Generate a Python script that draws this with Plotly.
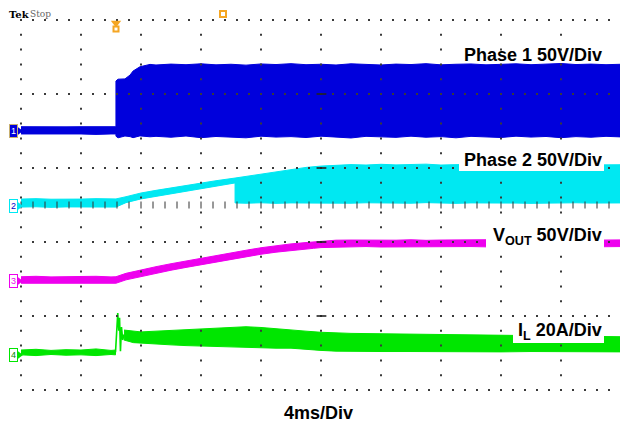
import plotly.graph_objects as go

# ---------------- data (read from the scope capture) ----------------
# time in ms (4 ms/div), channel values in V or A
# Channel 1 - Phase 1 (V)
ph1_t = [0, 1, 2, 3, 4, 5, 6, 6.33,
         6.33, 6.47, 6.93, 7.27, 7.47, 7.93, 8.6,
         9, 10, 11, 12, 13, 14, 15, 16, 17, 18, 19, 20, 21, 22, 23, 24,
         25, 26, 27, 28, 29, 30, 31, 32, 33, 34, 35, 36, 37, 38, 39, 40]
ph1_hi = [2.9, 2.7, 3.0, 2.8, 2.9, 2.7, 3.0, 2.9,
          33.8, 35.0, 35.2, 37.8, 40.5, 43.4, 45.0,
          44.6, 45.2, 44.8, 45.4, 44.7, 45.1, 44.5, 45.3, 44.9, 45.5, 44.8, 45.1, 44.6, 45.4, 45.0, 44.6,
          45.2, 44.9, 45.5, 44.7, 45.1, 45.3, 44.7, 45.0, 45.4, 44.8, 45.1, 45.6, 44.9, 45.2, 44.8, 45.1]
ph1_lo = [-2.0, -2.2, -1.9, -2.1, -2.0, -2.3, -2.0, -2.0,
          -3.5, -4.6, -3.4, -3.8, -4.5, -3.3, -3.9,
          -3.6, -4.2, -3.4, -4.5, -3.7, -3.9, -4.6, -3.5, -4.1, -3.8, -4.4, -3.5, -4.0, -4.7, -3.6, -3.9,
          -4.3, -3.5, -4.2, -3.8, -4.6, -3.6, -4.0, -4.4, -3.5, -4.1, -3.7, -4.5, -3.8, -4.2, -3.6, -4.0]

# Channel 2 - Phase 2 (V)
ph2_t = [0, 1, 2, 3, 4, 5, 6, 6.33,
         7, 8, 9, 10, 11, 12, 13,
         14.27, 14.27,
         15, 16, 17, 18, 19, 20, 21,
         22, 23, 24, 25, 26, 27, 28, 29, 30, 31, 32, 33, 34, 35, 36, 37, 38, 39, 40]
ph2_hi = [4.0, 4.3, 3.9, 4.2, 4.0, 4.3, 4.0, 4.1,
          5.6, 8.1, 9.9, 11.6, 13.3, 14.9, 16.4,
          18.2, 18.2,
          19.3, 20.9, 22.6, 24.0, 25.4, 26.3, 26.9,
          27.3, 27.0, 27.5, 27.1, 27.4, 27.6, 27.0, 27.3, 27.5, 27.1, 27.4, 27.2, 27.6, 27.0, 27.3, 27.5, 27.1, 27.4, 27.2]
ph2_lo = [-1.4, -1.2, -1.6, -1.3, -1.5, -1.2, -1.4, -1.4,
          1.6, 4.1, 5.9, 7.6, 9.2, 10.8, 12.7,
          14.9, 1.4,
          1.2, 1.5, 1.1, 1.4, 1.2, 1.5, 1.3,
          1.2, 1.5, 1.1, 1.4, 1.2, 1.6, 1.3, 1.1, 1.4, 1.2, 1.5, 1.3, 1.1, 1.4, 1.2, 1.5, 1.3, 1.1, 1.4]

# Channel 3 - VOUT (V)
vout_t = [0, 1, 2, 3, 4, 5, 6, 6.33,
          7, 8, 9, 10, 11, 12, 13, 14, 15, 16, 17, 18, 19,
          19.5, 20, 20.5, 21,
          22, 23, 24, 25, 26, 27, 28, 29, 30, 31, 32, 33, 34, 35, 36, 37, 38, 39, 40]
vout_hi = [2.2, 2.5, 2.1, 2.4, 2.2, 2.5, 2.1, 2.2,
           4.5, 6.9, 9.0, 11.0, 12.9, 14.6, 16.5, 18.3, 20.1, 21.8, 23.2, 24.4, 25.3,
           25.8, 26.3, 26.7, 26.9,
           27.0, 26.8, 27.1, 26.9, 27.2, 26.8, 27.0, 27.1, 26.9, 27.2, 26.8, 27.0, 27.1, 26.9, 27.2, 26.8, 27.0, 26.9, 27.1]
vout_lo = [-2.2, -2.0, -2.4, -2.1, -2.3, -2.0, -2.2, -2.2,
           0.1, 2.5, 4.6, 6.6, 8.5, 10.2, 12.1, 13.9, 15.7, 17.4, 18.8, 20.0, 20.9,
           21.4, 21.9, 22.3, 22.5,
           22.4, 22.6, 22.3, 22.5, 22.4, 22.7, 22.3, 22.5, 22.6, 22.4, 22.3, 22.6, 22.5, 22.4, 22.7, 22.3, 22.5, 22.4, 22.6]

# Channel 4 - IL (A)
il_pre_t = [0, 1, 2, 3, 4, 5, 6, 6.3]
il_pre_hi = [0.8, 1.0, 0.7, 0.9, 0.8, 1.1, 0.7, 0.8]
il_pre_lo = [-0.5, -0.7, -0.4, -0.6, -0.5, -0.7, -0.4, -0.5]
il_spike_t = [6.3, 6.36, 6.45, 6.52, 6.57, 6.63, 6.7, 6.78, 6.87]
il_spike_i = [0.2, 3.5, 10.8, 6.0, 9.5, 0.5, 7.0, 3.5, 5.0]
il_t = [6.87, 7.5, 8, 9, 10, 11, 12, 13, 14, 15, 16, 17, 18, 19, 20, 21, 22,
        24, 26, 28, 30, 32, 34, 36, 38, 40]
il_hi = [6.2, 5.9, 5.7, 5.9, 6.1, 6.3, 6.6, 6.8, 7.0, 7.1, 6.9, 6.5, 6.2, 5.9, 5.6, 5.4, 5.3,
         5.2, 5.1, 5.0, 4.9, 4.8, 4.7, 4.6, 4.5, 4.4]
il_lo = [3.5, 2.8, 2.7, 2.4, 2.2, 2.0, 1.8, 1.7, 1.5, 1.4, 1.4, 1.3, 1.3, 1.0, 0.7, 0.5, 0.4,
         0.4, 0.4, 0.3, 0.4, 0.3, 0.4, 0.3, 0.4, 0.3]

labels = ["<b>Phase 1 50V/Div</b>", "<b>Phase 2 50V/Div</b>",
          "<b>V<sub>OUT</sub> 50V/Div</b>", "<b>I<sub>L</sub> 20A/Div</b>"]
time_label = "<b>4ms/Div</b>"

# ---------------- screen geometry / styles ----------------
W, H = 620, 427
DIV_X, DIV_Y = 15.0, 74.0       # px per ms, px per vertical division
X0_PX, Y0_PX = 21.0, 205.0      # px of t=0, screen centre line


def tx(px):
    return (px - X0_PX) / DIV_X


def dy(py):
    return (Y0_PX - py) / DIV_Y


# channel: (ground position in divisions, units per division, colour)
CH1 = (dy(131), 50.0, "#0000dc")
CH2 = (dy(205), 50.0, "#00e8f2")
CH3 = (dy(280), 50.0, "#ee00ee")
CH4 = (dy(353), 20.0, "#00e600")
ORANGE = "#f5a623"


def scr(vals, ch):
    off, sc, _ = ch
    return [off + v / sc for v in vals]


def band(t, hi, lo, ch):
    x = list(t) + list(t)[::-1]
    y = scr(hi, ch) + scr(lo, ch)[::-1]
    return go.Scatter(x=x, y=y, mode="lines", fill="toself", fillcolor=ch[2],
                      line=dict(color=ch[2], width=1), hoverinfo="skip",
                      showlegend=False)


fig = go.Figure()
fig.add_trace(band(ph1_t, ph1_hi, ph1_lo, CH1))
fig.add_trace(band(ph2_t, ph2_hi, ph2_lo, CH2))
fig.add_trace(band(vout_t, vout_hi, vout_lo, CH3))
fig.add_trace(band(il_pre_t, il_pre_hi, il_pre_lo, CH4))
fig.add_trace(band(il_t, il_hi, il_lo, CH4))
fig.add_trace(go.Scatter(x=il_spike_t, y=scr(il_spike_i, CH4), mode="lines",
                         line=dict(color=CH4[2], width=1.6), hoverinfo="skip",
                         showlegend=False))

# graticule (drawn over the traces, like the scope screen)
rows = [2.5, 1.5, 0.5, -0.5, -1.5, -2.5]
gx, gy = [], []
for r in rows:
    for k in range(51):
        gx.append(k * 0.8)
        gy.append(r)
for c in range(11):
    for k in range(26):
        gx.append(c * 4.0)
        gy.append(-2.5 + k * 0.2)
fig.add_trace(go.Scatter(x=gx, y=gy, mode="markers",
                         marker=dict(symbol="square", size=2, color="#3a3a3a",
                                     line=dict(width=0)),
                         hoverinfo="skip", showlegend=False))
fig.add_trace(go.Scatter(x=[k * 0.8 for k in range(51)], y=[0] * 51, mode="markers",
                         marker=dict(symbol="line-ns", size=5, color="#333333",
                                     line=dict(width=1, color="#333333")),
                         hoverinfo="skip", showlegend=False))
fig.add_trace(go.Scatter(x=[20.03] * 4, y=[1.5, 0.5, -0.5, -1.5], mode="markers",
                         marker=dict(symbol="line-ew", size=7, color="#222222",
                                     line=dict(width=1.6, color="#222222")),
                         hoverinfo="skip", showlegend=False))

# trigger markers
fig.add_trace(go.Scatter(x=[tx(116)], y=[dy(23)], mode="markers",
                         marker=dict(symbol="triangle-down", size=9, color=ORANGE),
                         hoverinfo="skip", showlegend=False))
fig.add_trace(go.Scatter(x=[tx(116)], y=[dy(29)], mode="markers",
                         marker=dict(symbol="square-open", size=5, color=ORANGE,
                                     line=dict(width=2, color=ORANGE)),
                         hoverinfo="skip", showlegend=False))
fig.add_trace(go.Scatter(x=[tx(223)], y=[dy(14)], mode="markers",
                         marker=dict(symbol="square-open", size=6, color=ORANGE,
                                     line=dict(width=2, color=ORANGE)),
                         hoverinfo="skip", showlegend=False))

# channel ground arrows
for ch, ypx in [(CH1, 131), (CH2, 206), (CH3, 281), (CH4, 355)]:
    fig.add_trace(go.Scatter(x=[tx(19.5)], y=[dy(ypx)], mode="markers",
                             marker=dict(symbol="triangle-right", size=7, color=ch[2]),
                             hoverinfo="skip", showlegend=False))

# white boxes behind labels
for x0, x1, y0, y1 in [(459, 604, 149, 171), (486, 604, 221, 248), (513, 604, 318, 343)]:
    fig.add_shape(type="rect", x0=tx(x0), x1=tx(x1), y0=dy(y1), y1=dy(y0),
                  fillcolor="white", line=dict(width=0), layer="above")

FONT = "Liberation Sans, Arial, sans-serif"
ann = []
for text, ypx in zip(labels, [55, 160, 236, 331]):
    ann.append(dict(x=tx(604), y=dy(ypx), text=text, xanchor="right", yanchor="middle",
                    showarrow=False, font=dict(family=FONT, size=18, color="black")))
ann.append(dict(x=tx(318), y=dy(413), text=time_label, xanchor="center", yanchor="middle",
                showarrow=False, font=dict(family=FONT, size=18, color="black")))
ann.append(dict(x=tx(7), y=dy(14), text="<b>Tek</b>", xanchor="left", yanchor="middle",
                showarrow=False, font=dict(family="DejaVu Serif, serif", size=10, color="black")))
ann.append(dict(x=tx(28), y=dy(14), text="Stop", xanchor="left", yanchor="middle",
                showarrow=False, font=dict(family="DejaVu Serif, serif", size=9, color="#666666")))
# channel number tags
for num, ypx, bg, fg, bc in [("1", 131, CH1[2], "white", "#c8b070"),
                             ("2", 206, "white", "#0000cc", CH2[2]),
                             ("3", 281, "white", CH3[2], CH3[2]),
                             ("4", 355, "white", "#008800", CH4[2])]:
    ann.append(dict(x=tx(13), y=dy(ypx), text=num, xanchor="center", yanchor="middle",
                    showarrow=False, bgcolor=bg, bordercolor=bc, borderwidth=1, borderpad=1,
                    font=dict(family=FONT, size=9, color=fg)))

fig.update_layout(
    width=W, height=H, margin=dict(l=0, r=0, t=0, b=0),
    paper_bgcolor="white", plot_bgcolor="white",
    xaxis=dict(range=[tx(0), tx(W)], visible=False, fixedrange=True),
    yaxis=dict(range=[dy(H), dy(0)], visible=False, fixedrange=True),
    annotations=ann, showlegend=False,
)

fig.write_html("out.html", config={"displayModeBar": False})

# remove the browser's default page margin so the figure sits at (0, 0)
with open("out.html", "r", encoding="utf-8") as f:
    html = f.read()
html = html.replace("<body>", '<body style="margin:0;padding:0;overflow:hidden">', 1)
with open("out.html", "w", encoding="utf-8") as f:
    f.write(html)
